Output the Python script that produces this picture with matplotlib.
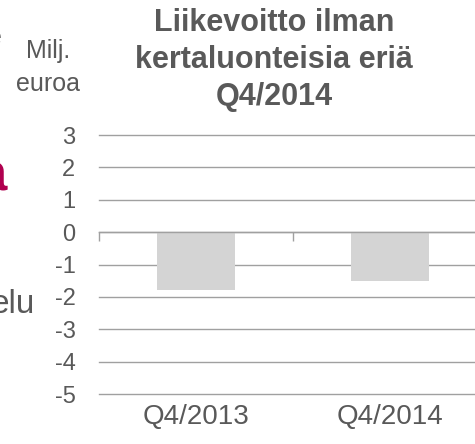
import matplotlib
matplotlib.use("Agg")
import matplotlib.pyplot as plt

categories = ["Q4/2013", "Q4/2014"]
values = [-1.8, -1.5]
yticks = [3, 2, 1, 0, -1, -2, -3, -4, -5]
title = "Liikevoitto ilman\nkertaluonteisia eriä\nQ4/2014"
unit_label = "Milj.\neuroa"

plt.rcParams['font.family'] = ['Liberation Sans', 'DejaVu Sans']
TXT = '#595959'
GRID = '#a0a0a0'
BAR = '#d4d4d4'

W, H = 475, 444
fig = plt.figure(figsize=(W / 100, H / 100), dpi=100)

ax_left = 99 / W
ax_right = 487 / W
ax_bottom = (H - 394) / H
ax_top = (H - 135) / H
ax = fig.add_axes([ax_left, ax_bottom, ax_right - ax_left, ax_top - ax_bottom])

x = list(range(len(categories)))
ax.bar(x, values, width=0.4, color=BAR, zorder=2)
ax.set_xlim(-0.5, len(categories) - 0.5)
ax.set_ylim(min(yticks), max(yticks))
ax.set_yticks(yticks)
ax.set_yticklabels([str(v) for v in yticks])
ax.yaxis.grid(True, color=GRID, linewidth=1.0)
for gl in ax.get_ygridlines():
    gl.set_clip_on(False)
ax.set_axisbelow(True)
ax.tick_params(axis='y', length=0, pad=17, labelsize=17, labelcolor=TXT)

for s in ['left', 'right', 'top']:
    ax.spines[s].set_visible(False)
ax.spines['bottom'].set_position(('data', 0))
ax.spines['bottom'].set_color(GRID)
ax.spines['bottom'].set_linewidth(1.0)
ax.spines['bottom'].set_zorder(3)
ax.set_xticks([i - 0.5 for i in range(len(categories) + 1)])
ax.tick_params(axis='x', direction='out', length=6.5, width=1.0, color=GRID,
               labelbottom=False)

sec = ax.secondary_xaxis('bottom')
sec.set_xticks(x)
sec.set_xticklabels(categories)
sec.tick_params(length=0, pad=7, labelsize=20, labelcolor=TXT)
sec.spines['bottom'].set_visible(False)

fig.text(274 / W, 1 - 8 / H, title, ha='center', va='top', fontsize=22,
         fontweight='bold', color=TXT, linespacing=1.31)
fig.text(48 / W, 1 - 39 / H, unit_label, ha='center', va='top', fontsize=18,
         color=TXT, linespacing=1.46)

# fragments of neighbouring slide text cut at the left edge
fig.text(2 / W, 1 - 45 / H, "e", ha='right', va='baseline', fontsize=18, color=TXT)
fig.text(7 / W, 1 - 190 / H, "a", ha='right', va='baseline', fontsize=38,
         fontweight='bold', color='#b0004f')
fig.text(35 / W, 1 - 313 / H, "elu", ha='right', va='baseline', fontsize=24, color=TXT)

fig.savefig("out.png", dpi=100)
